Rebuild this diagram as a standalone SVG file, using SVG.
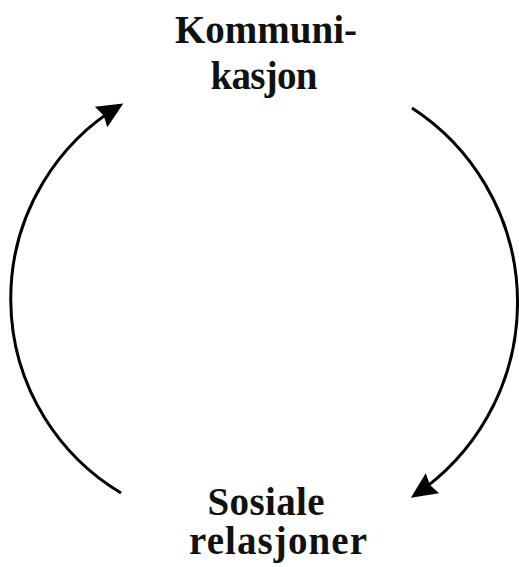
<svg xmlns="http://www.w3.org/2000/svg" width="519" height="567" viewBox="0 0 519 567">
<style>
.lbl{font-family:"Liberation Serif","Times New Roman",serif;font-weight:bold;font-size:39px;fill:#111;text-anchor:middle}
.arc{fill:none;stroke:#000;stroke-width:3}
</style>
<defs>
<marker id="ah" markerUnits="userSpaceOnUse" markerWidth="32" markerHeight="32" viewBox="-2 -14 32 28" refX="21" refY="0" orient="auto">
<path d="M0,-12 L26,0 L0,12 L3,0 z" fill="#000"/>
</marker>
</defs>
<rect width="519" height="567" fill="#fff"/>
<g id="connectors">
<path class="arc" d="M121,493 A226,226 0 0 1 119,106" marker-end="url(#ah)"/>
<path class="arc" d="M412,108 A232,232 0 0 1 415,495" marker-end="url(#ah)"/>
</g>
<g id="kommunikasjon">
<text class="lbl" x="266" y="43" textLength="182">Kommuni-</text>
<text class="lbl" x="264" y="89" textLength="107">kasjon</text>
</g>
<g id="sosiale-relasjoner">
<text class="lbl" x="266" y="515" textLength="117">Sosiale</text>
<text class="lbl" x="278" y="554" textLength="178">relasjoner</text>
</g>
</svg>
